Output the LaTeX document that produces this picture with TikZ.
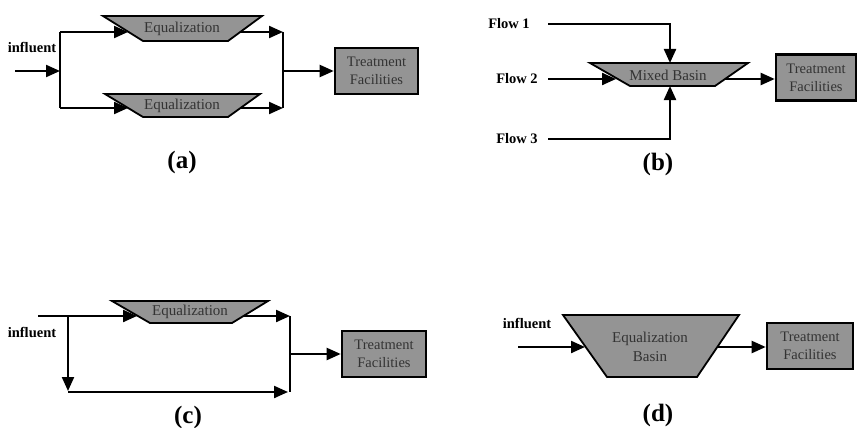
\documentclass[tikz,border=0pt]{standalone}
\usepackage{fontspec}
\setmainfont{Liberation Serif}
\usetikzlibrary{arrows.meta}
\begin{document}
\begin{tikzpicture}[x=1pt,y=-1pt,
 ln/.style={line width=2.2pt},
 fl/.style={line width=2.2pt,-{Triangle[length=14pt,width=12pt]}},
 basin/.style={draw=black,line width=1.8pt,fill=black!42,line join=miter},
 tf/.style={draw=black,line width=2.6pt,fill=black!42,minimum height=46pt,inner sep=0pt,align=center,font=\fontsize{14.5}{18}\selectfont,text=black!80},
 lab/.style={font=\fontsize{15}{19}\selectfont,text=black!80,align=center},
 tag/.style={font=\bfseries\fontsize{25}{28}\selectfont},
 inf/.style={font=\bfseries\fontsize{14.5}{16}\selectfont}]
\useasboundingbox (0,0) rectangle (857,428);

% ---------- (a)
\draw[basin] (103,16) -- (262,16) -- (228,41) -- (143,41) -- cycle;
\node[lab] (eqa1) at (182,29) {Equalization};
\draw[basin] (105,94) -- (260,94) -- (228,117) -- (143,117) -- cycle;
\node[lab] (eqa2) at (182,106) {Equalization};
\node[inf] (infa) at (32,47) {influent};
\node[tf,minimum width=83pt] (tfa) at (376.5,71) {Treatment\\Facilities};
\coordinate (ain) at (15,71);
\coordinate (asplit) at (60,71);
\coordinate (asT) at (60,32);
\coordinate (asB) at (60,108);
\coordinate (eqa1in) at (128,32);
\coordinate (eqa1out) at (240,32);
\coordinate (eqa2in) at (128,108);
\coordinate (eqa2out) at (240,108);
\coordinate (amT) at (283,32);
\coordinate (amB) at (283,108);
\coordinate (am) at (283,71);
\draw[fl] (ain) -- (asplit);
\draw[ln] (asT) -- (asB);
\draw[fl] (asT) -- (eqa1in);
\draw[fl] (asB) -- (eqa2in);
\draw[fl] (eqa1out) -- (amT);
\draw[fl] (eqa2out) -- (amB);
\draw[ln] (amT) -- (amB);
\draw[fl] (am) -- (tfa.west);
\node[tag] (taga) at (182,162) {(a)};

% ---------- (b)
\draw[basin] (590,63) -- (748,63) -- (715,86) -- (630,86) -- cycle;
\node[lab] (mix) at (668,75) {Mixed Basin};
\node[inf] (f1) at (509,24) {Flow 1};
\node[inf] (f2) at (517,79) {Flow 2};
\node[inf] (f3) at (517,139) {Flow 3};
\node[tf,minimum width=80pt] (tfb) at (816,77.5) {Treatment\\Facilities};
\coordinate (b1s) at (548,24);
\coordinate (b2s) at (548,79);
\coordinate (b3s) at (548,139);
\coordinate (b1e) at (670,63);
\coordinate (b2e) at (616,79);
\coordinate (b3e) at (670,86);
\coordinate (bout) at (725,79);
\draw[fl] (b1s) -| (b1e);
\draw[fl] (b2s) -- (b2e);
\draw[fl] (b3s) -| (b3e);
\draw[fl] (bout) -- (bout -| tfb.west);
\node[tag] (tagb) at (658,164) {(b)};

% ---------- (c)
\draw[basin] (112,301) -- (268,301) -- (232,323) -- (150,323) -- cycle;
\node[lab] (eqc) at (190,312) {Equalization};
\node[inf] (infc) at (32,332) {influent};
\node[tf,minimum width=84pt] (tfc) at (384,354) {Treatment\\Facilities};
\coordinate (cin) at (38,316);
\coordinate (csplit) at (68,316);
\coordinate (cdown) at (68,391);
\coordinate (cbl) at (68,392);
\coordinate (cbr) at (288,392);
\coordinate (eqcin) at (137,316);
\coordinate (eqcout) at (243,316);
\coordinate (cmT) at (290,316);
\coordinate (cmB) at (290,392);
\coordinate (cm) at (290,354);
\draw[fl] (cin) -- (eqcin);
\draw[fl] (csplit) -- (cdown);
\draw[fl] (cbl) -- (cbr);
\draw[fl] (eqcout) -- (cmT);
\draw[ln] (cmT) -- (cmB);
\draw[fl] (cm) -- (tfc.west);
\node[tag] (tagc) at (188,417) {(c)};

% ---------- (d)
\draw[basin] (563,315) -- (739,315) -- (697,377) -- (607,377) -- cycle;
\node[lab] (eqd) at (650,347) {Equalization\\Basin};
\node[inf] (infd) at (527,323) {influent};
\node[tf,minimum width=86pt] (tfd) at (810,346) {Treatment\\Facilities};
\coordinate (din) at (518,347);
\coordinate (deqin) at (585,347);
\coordinate (deqout) at (717,347);
\draw[fl] (din) -- (deqin);
\draw[fl] (deqout) -- (deqout -| tfd.west);
\node[tag] (tagd) at (658,415) {(d)};
\end{tikzpicture}
\end{document}
